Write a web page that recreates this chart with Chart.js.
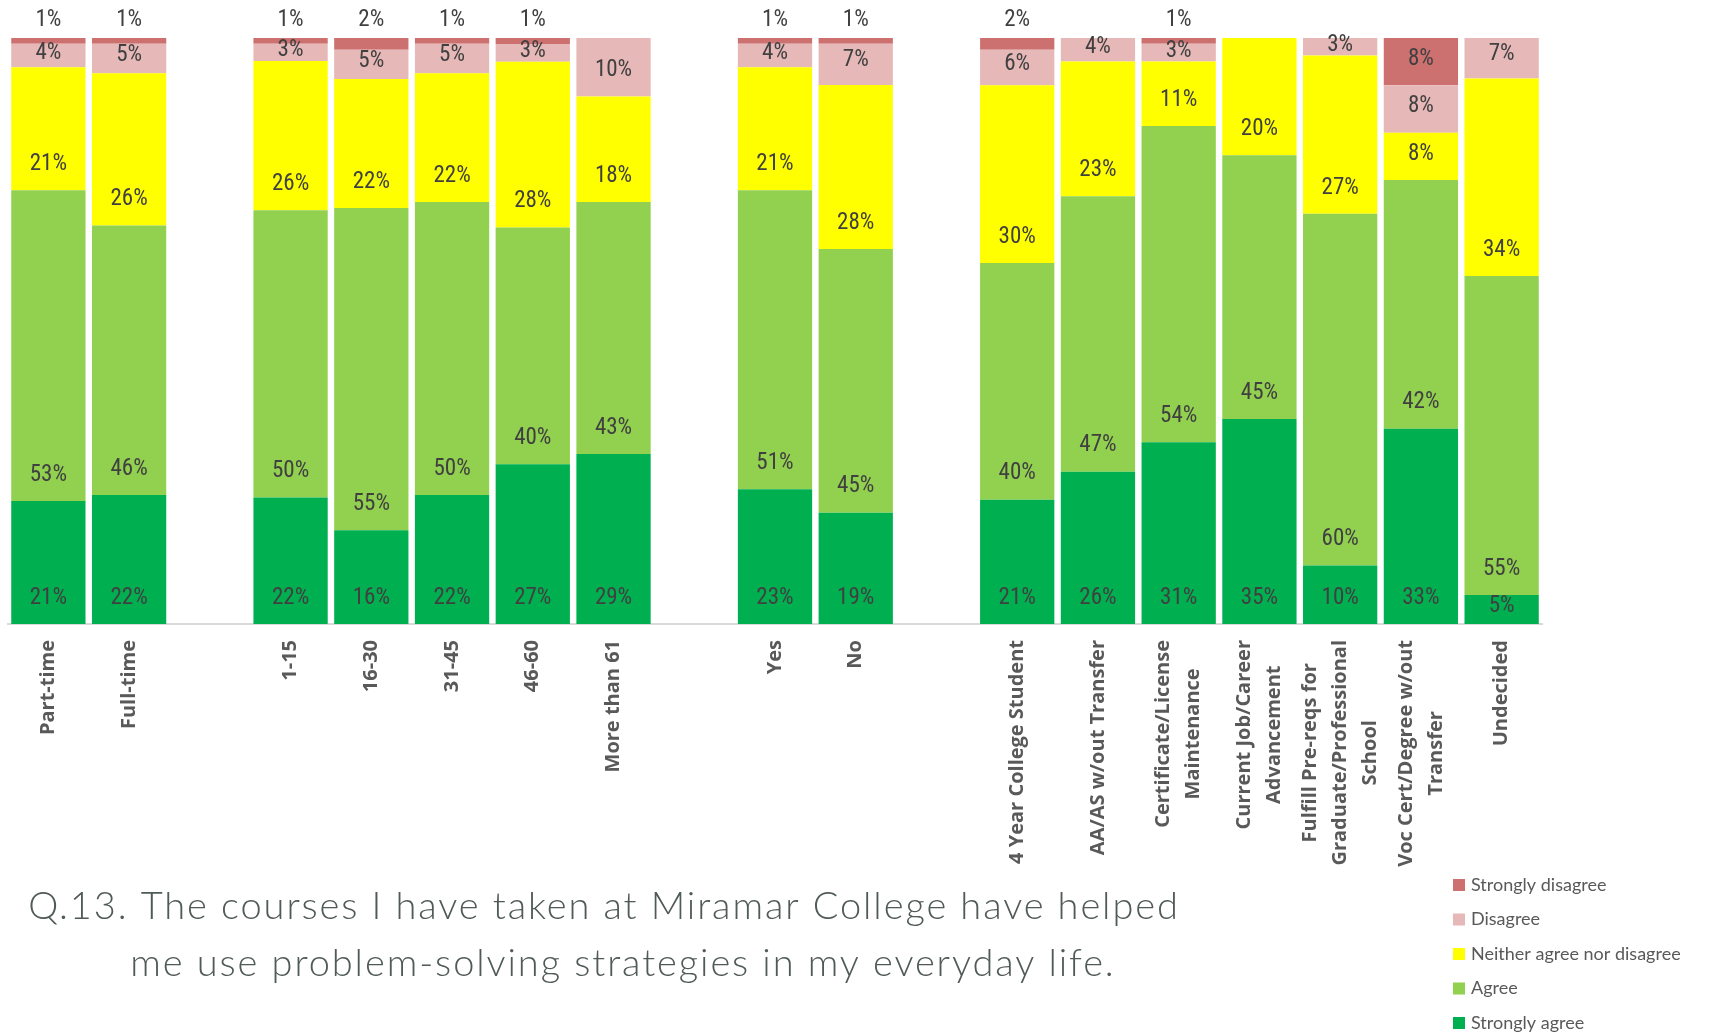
<!DOCTYPE html>
<html>
<head>
<meta charset="utf-8">
<script src="https://cdn.jsdelivr.net/npm/chart.js@4.4.1/dist/chart.umd.min.js"></script>
<style>
  body { margin: 0; background: #fff; }
  canvas { display: block; }
</style>
</head>
<body>
<canvas id="chart" width="1718" height="1033"></canvas>
<script>
// category labels, one array of lines per bar slot (empty slots are the gaps between groups)
const categories = [
  ['Part-time'], ['Full-time'], [],
  ['1-15'], ['16-30'], ['31-45'], ['46-60'], ['More than 61'], [],
  ['Yes'], ['No'], [],
  ['4 Year College Student'], ['AA/AS w/out Transfer'], ['Certificate/License', 'Maintenance'],
  ['Current Job/Career', 'Advancement'], ['Fulfill Pre-reqs for', 'Graduate/Professional', 'School'],
  ['Voc Cert/Degree w/out', 'Transfer'], ['Undecided']
];

// percentages as printed on the bars
const stronglyAgree    = [21, 22, null, 22, 16, 22, 27, 29, null, 23, 19, null, 21, 26, 31, 35, 10, 33, 5];
const agree            = [53, 46, null, 50, 55, 50, 40, 43, null, 51, 45, null, 40, 47, 54, 45, 60, 42, 55];
const neither          = [21, 26, null, 26, 22, 22, 28, 18, null, 21, 28, null, 30, 23, 11, 20, 27, 8, 34];
const disagree         = [4, 5, null, 3, 5, 5, 3, 10, null, 4, 7, null, 6, 4, 3, 0, 3, 8, 7];
const stronglyDisagree = [1, 1, null, 1, 2, 1, 1, 0, null, 1, 1, null, 2, 0, 1, 0, 0, 8, 0];

const seriesNames = ['Strongly agree', 'Agree', 'Neither agree nor disagree', 'Disagree', 'Strongly disagree'];
const seriesColors = ['#00b050', '#92d050', '#ffff00', '#e6b8b7', '#cd7070'];

const titleLines = [
  'Q.13. The courses I have taken at Miramar College have helped',
  'me use problem-solving strategies in my everyday life.'
];

const series = [stronglyAgree, agree, neither, disagree, stronglyDisagree];

// each bar is a 100% stack, so scale the rounded labels to their own total
const totals = categories.map((_, j) => series.reduce((s, vals) => s + (vals[j] || 0), 0));

const labelFont = '23px "Liberation Sans Narrow", "Roboto Condensed", Lato, sans-serif';

const drawExtras = {
  id: 'drawExtras',
  afterDatasetsDraw(chart) {
    const ctx = chart.ctx;
    const area = chart.chartArea;
    ctx.save();
    // value labels near the base of each segment
    ctx.font = labelFont;
    ctx.fillStyle = '#404040';
    ctx.textAlign = 'center';
    ctx.textBaseline = 'middle';
    chart.data.datasets.forEach((ds, i) => {
      const meta = chart.getDatasetMeta(i);
      meta.data.forEach((bar, j) => {
        const v = series[i][j];
        if (!v) return;
        let y;
        if (i === 4 && v <= 2) {
          y = area.top - 18;
        } else {
          const h = bar.base - bar.y;
          y = bar.base - Math.min(26, h * 0.6);
        }
        ctx.fillText(v + '%', bar.x, y);
      });
    });
    ctx.restore();
  },
  afterDraw(chart) {
    const ctx = chart.ctx;
    const xScale = chart.scales.x;
    ctx.save();
    // rotated category labels, lines centred on each other
    ctx.font = 'bold 20px "Open Sans", "DejaVu Sans", sans-serif';
    ctx.fillStyle = '#595959';
    ctx.textBaseline = 'middle';
    ctx.textAlign = 'right';
    categories.forEach((lines, j) => {
      if (!lines.length) return;
      const x = xScale.getPixelForValue(j);
      const widths = lines.map(l => ctx.measureText(l).width);
      const maxW = Math.max(...widths);
      ctx.save();
      ctx.translate(x, 640);
      ctx.rotate(-Math.PI / 2);
      lines.forEach((l, k) => {
        const off = (k - (lines.length - 1) / 2) * 30;
        ctx.fillText(l, -(maxW - widths[k]) / 2, off);
      });
      ctx.restore();
    });

    // title under the chart
    ctx.font = '300 38px Lato, "Open Sans", sans-serif';
    ctx.letterSpacing = '1.9px';
    ctx.fillStyle = '#505a58';
    ctx.textAlign = 'center';
    ctx.textBaseline = 'alphabetic';
    ctx.fillText(titleLines[0], 604, 919);
    ctx.fillText(titleLines[1], 623, 976);
    ctx.letterSpacing = '0px';

    // legend, top entry is the top of the stack
    ctx.font = '18px Lato, "Open Sans", sans-serif';
    ctx.textAlign = 'left';
    ctx.textBaseline = 'middle';
    for (let k = 0; k < seriesNames.length; k++) {
      const i = seriesNames.length - 1 - k;
      const y = 885 + k * 34.5;
      ctx.fillStyle = seriesColors[i];
      ctx.fillRect(1453, y - 6, 12, 12);
      ctx.fillStyle = '#595959';
      ctx.fillText(seriesNames[i], 1471, y);
    }
    ctx.restore();
  }
};

new Chart(document.getElementById('chart'), {
  type: 'bar',
  data: {
    labels: categories.map(c => c.join(' ')),
    datasets: series.map((vals, i) => ({
      label: seriesNames[i],
      data: vals.map((v, j) => v == null ? null : v * 100 / totals[j]),
      backgroundColor: seriesColors[i],
      borderWidth: 0,
      barPercentage: 0.92,
      categoryPercentage: 1
    }))
  },
  options: {
    responsive: false,
    animation: false,
    layout: { padding: { left: 8, right: 176, top: 38, bottom: 409 } },
    plugins: {
      legend: { display: false },
      tooltip: { enabled: false }
    },
    scales: {
      x: {
        stacked: true,
        grid: { display: false },
        border: { color: '#d9d9d9', width: 2 },
        ticks: { display: false },
        afterFit: (scale) => { scale.height = 0; }
      },
      y: { stacked: true, display: false, min: 0, max: 100 }
    }
  },
  plugins: [drawExtras]
});
</script>
</body>
</html>
